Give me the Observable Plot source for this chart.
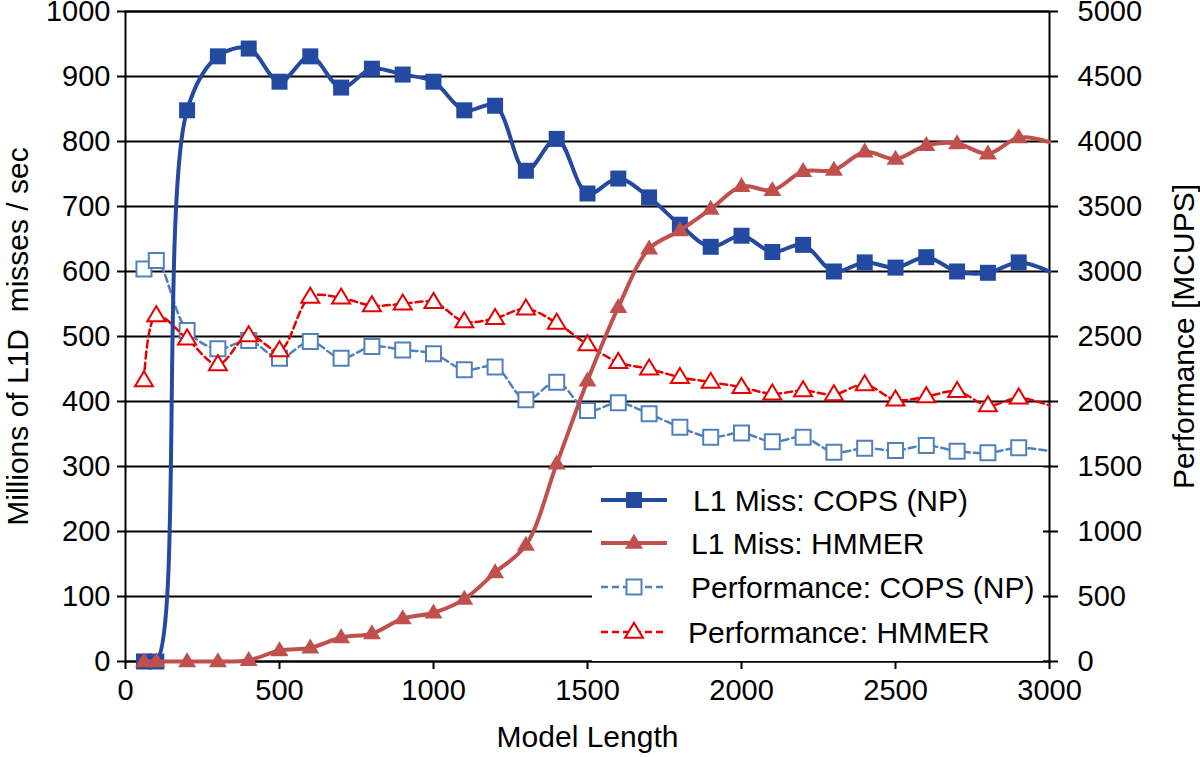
<!DOCTYPE html>
<html>
<head>
<meta charset="utf-8">
<script src="https://cdn.jsdelivr.net/npm/d3@7"></script>
<script src="https://cdn.jsdelivr.net/npm/@observablehq/plot@0.6"></script>
<style>
  html, body { margin: 0; padding: 0; background: white; }
  #wrap { position: relative; width: 1200px; height: 757px; overflow: hidden; background: white; }
  #wrap svg.plot { position: absolute; left: 0; top: 0; }
  #wrap svg.plot text { font-family: "Liberation Sans", Arial, sans-serif; }
  g[aria-label="y-axis label"], g[aria-label="x-axis label"] {
    font-size: 30px; white-space: pre;
  }
  g[aria-label="y-axis tick label"], g[aria-label="x-axis tick label"] {
    font-size: 29px;
  }
  #legend { position: absolute; left: 592px; top: 467px; width: 451px; height: 194px; background: white; }
</style>
</head>
<body>
<div id="wrap"></div>
<script>
// ---- data ----
const modelLength = [60, 100, 200, 300, 400, 500, 600, 700, 800, 900, 1000, 1100, 1200, 1300, 1400, 1500,
  1600, 1700, 1800, 1900, 2000, 2100, 2200, 2300, 2400, 2500, 2600, 2700, 2800, 2900, 3000];
// Millions of L1D misses / sec (left axis)
const l1MissCops = [0, 0, 848, 931, 943, 892, 931, 883, 912, 903, 892, 848, 855, 755, 804, 720,
  743, 714, 672, 638, 655, 630, 641, 600, 614, 606, 622, 600, 598, 614, 600];
const l1MissHmmer = [0, 0, 0, 0, 2, 17, 21, 37, 43, 66, 75, 96, 137, 179, 304, 432,
  545, 635, 663, 696, 731, 725, 754, 756, 784, 773, 794, 797, 781, 806, 799];
// Performance [MCUPS] (right axis)
const perfCops = [3020, 3085, 2546, 2405, 2469, 2333, 2462, 2333, 2423, 2397, 2367, 2244, 2266, 2013, 2149, 1931,
  1990, 1905, 1802, 1725, 1758, 1690, 1725, 1610, 1641, 1623, 1662, 1618, 1605, 1644, 1618];
const perfHmmer = [2162, 2662, 2482, 2285, 2508, 2392, 2803, 2797, 2738, 2751, 2764, 2615, 2640, 2713, 2603, 2438,
  2302, 2251, 2187, 2149, 2110, 2059, 2085, 2054, 2131, 2013, 2038, 2079, 1969, 2028, 1969];

const seriesNames = ["L1 Miss: COPS (NP)", "L1 Miss: HMMER", "Performance: COPS (NP)", "Performance: HMMER"];
const xTicks = [0, 500, 1000, 1500, 2000, 2500, 3000];
const leftTicks = [0, 100, 200, 300, 400, 500, 600, 700, 800, 900, 1000];
const rightTicks = [0, 500, 1000, 1500, 2000, 2500, 3000, 3500, 4000, 4500, 5000];

// ---- derived tables ----
const ratio = rightTicks[rightTicks.length - 1] / leftTicks[leftTicks.length - 1]; // 5
const rows = modelLength.map((x, i) => ({
  x, l1c: l1MissCops[i], l1h: l1MissHmmer[i], pc: perfCops[i] / ratio, ph: perfHmmer[i] / ratio
}));
const markerRows = rows.slice(0, -1); // last sample is drawn by the line only (runs to the frame edge)

// ---- styles ----
const C_BLUE = "#2349a0", C_RED = "#c0504d", C_LBLUE = "#4f81bd", C_LRED = "#e60000";
const squareSym = (s) => ({ draw(ctx) { const h = s / 2; ctx.moveTo(-h, -h); ctx.lineTo(h, -h); ctx.lineTo(h, h); ctx.lineTo(-h, h); ctx.closePath(); } });
const triSym = (w, h) => ({ draw(ctx) { ctx.moveTo(0, -h * 0.62); ctx.lineTo(w / 2, h * 0.38); ctx.lineTo(-w / 2, h * 0.38); ctx.closePath(); } });
const SQ_FILLED = squareSym(16), TRI_FILLED = triSym(18, 15);
const SQ_OPEN = squareSym(15), TRI_OPEN = triSym(18, 15);

const curve = "catmull-rom";

const chart = Plot.plot({
  width: 1200, height: 757,
  marginLeft: 125, marginRight: 151, marginTop: 11, marginBottom: 96,
  x: { domain: [xTicks[0], xTicks[xTicks.length - 1]] },
  y: { domain: [leftTicks[0], leftTicks[leftTicks.length - 1]] },
  style: { fontFamily: "'Liberation Sans', Arial, sans-serif", fontSize: "29px", color: "black", background: "white" },
  marks: [
    Plot.ruleY(leftTicks, { stroke: "black", strokeWidth: 2 }),
    Plot.frame({ stroke: "black", strokeWidth: 2 }),
    Plot.axisY({ anchor: "left", ticks: leftTicks, tickSize: 8, tickPadding: 7, strokeWidth: 2,
      tickFormat: d => String(d), label: "Millions of L1D  misses / sec", labelAnchor: "center", labelOffset: 119, labelArrow: "none" }),
    Plot.axisY({ anchor: "right", ticks: rightTicks.map(v => v / ratio), tickSize: 8, tickPadding: 20, strokeWidth: 2,
      tickFormat: d => String(Math.round(d * ratio)), label: "Performance [MCUPS]", labelAnchor: "center", labelOffset: 144, labelArrow: "none" }),
    Plot.axisX({ ticks: xTicks, tickSize: 8, tickPadding: 10, strokeWidth: 2,
      tickFormat: d => String(d), label: "Model Length", labelAnchor: "center", labelOffset: 85, labelArrow: "none" }),

    // performance (secondary axis) series, dashed
    Plot.line(rows, { x: "x", y: "pc", stroke: C_LBLUE, strokeWidth: 2.5, strokeDasharray: "7,4", curve }),
    Plot.dot(markerRows, { x: "x", y: "pc", symbol: SQ_OPEN, r: 8, fill: "white", stroke: C_LBLUE, strokeWidth: 2 }),
    Plot.line(rows, { x: "x", y: "ph", stroke: C_LRED, strokeWidth: 2.5, strokeDasharray: "7,4", curve }),
    Plot.dot(markerRows, { x: "x", y: "ph", symbol: TRI_OPEN, r: 8, fill: "white", stroke: C_LRED, strokeWidth: 2 }),

    // L1 miss (primary axis) series, solid
    Plot.line(rows, { x: "x", y: "l1c", stroke: C_BLUE, strokeWidth: 4, curve }),
    Plot.dot(markerRows, { x: "x", y: "l1c", symbol: SQ_FILLED, r: 8, fill: C_BLUE, stroke: "none" }),
    Plot.line(rows, { x: "x", y: "l1h", stroke: C_RED, strokeWidth: 4, curve }),
    Plot.dot(markerRows, { x: "x", y: "l1h", symbol: TRI_FILLED, r: 8, fill: C_RED, stroke: "none" })
  ]
});
chart.classList.add("plot");
const wrap = document.getElementById("wrap");
wrap.appendChild(chart);

// ---- legend (white box over the lower-right part of the plot) ----
const legendSpec = [
  { name: seriesNames[0], color: C_BLUE, width: 4, dash: null, sym: SQ_FILLED, fill: C_BLUE },
  { name: seriesNames[1], color: C_RED, width: 4, dash: null, sym: TRI_FILLED, fill: C_RED },
  { name: seriesNames[2], color: C_LBLUE, width: 2.5, dash: "7,4", sym: SQ_OPEN, fill: "white" },
  { name: seriesNames[3], color: C_LRED, width: 2.5, dash: "7,4", sym: TRI_OPEN, fill: "white" }
];
const legendDiv = d3.select(wrap).append("div").attr("id", "legend");
const lsvg = legendDiv.append("svg").attr("width", 451).attr("height", 194)
  .style("font-family", "'Liberation Sans', Arial, sans-serif").style("font-size", "30px");
const rowY = [33, 76, 120, 165];
const textX = [101, 99, 99, 96];
legendSpec.forEach((s, i) => {
  const g = lsvg.append("g").attr("transform", `translate(0,${rowY[i]})`);
  g.append("line").attr("x1", 9).attr("x2", 75).attr("stroke", s.color).attr("stroke-width", s.width)
    .attr("stroke-dasharray", s.dash);
  g.append("path").attr("transform", "translate(42,0)").attr("d", d3.symbol().type(s.sym)())
    .attr("fill", s.fill).attr("stroke", s.fill === "white" ? s.color : "none").attr("stroke-width", 2);
  g.append("text").attr("x", textX[i]).attr("dy", "0.35em").attr("fill", "black").text(s.name);
});
</script>
</body>
</html>
